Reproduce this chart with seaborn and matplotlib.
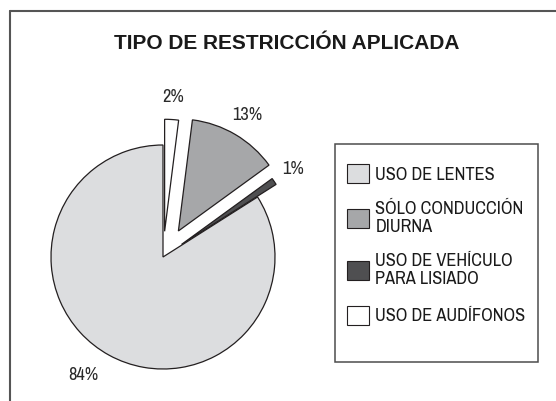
import matplotlib
matplotlib.use("Agg")
import matplotlib.pyplot as plt
import seaborn as sns
from matplotlib.patches import Patch, Rectangle
from matplotlib.lines import Line2D
from matplotlib.font_manager import FontProperties

# ---- data (legend order) ----
categories = ["USO DE LENTES", "SÓLO CONDUCCIÓN\nDIURNA", "USO DE VEHÍCULO\nPARA LISIADO", "USO DE AUDÍFONOS"]
values = [84, 13, 1, 2]
pct_labels = ["84%", "13%", "1%", "2%"]
title = "TIPO DE RESTRICCIÓN APLICADA"

# ---- style ----
colors = ["#DCDDDF", "#A6A7A9", "#4F4F51", "#FFFFFF"]
explode = [0.0, 0.27, 0.20, 0.23]
draw_order = [3, 1, 2, 0]   # clockwise from 12 o'clock: 2%, 13%, 1%, 84%
edge = "#231F20"

sns.set_theme(style="white")
plt.rcParams["font.family"] = ["Liberation Sans", "DejaVu Sans"]
fs = 13.2
narrow_fp = FontProperties(family=["Archivo Narrow", "PT Sans Narrow", "Liberation Sans"], size=fs)

W, H = 556, 401
fig = plt.figure(figsize=(W / 100, H / 100), dpi=100)
fig.patch.set_facecolor("white")

# pie centre / radius in pixels
cx, cy, R = 163, 257, 112
ax = fig.add_axes([0, 0, 1, 1])
wedges, texts = ax.pie(
    [values[i] for i in draw_order],
    labels=[pct_labels[i] for i in draw_order],
    colors=[colors[i] for i in draw_order],
    explode=[explode[i] for i in draw_order],
    startangle=90, counterclock=False, radius=1.0,
    labeldistance=1.2,
    wedgeprops=dict(edgecolor=edge, linewidth=0.9),
    textprops=dict(color="#2a2a2a"),
)
for t in texts:
    t.set_fontproperties(narrow_fp)
    x, y = t.get_position()
    if x > 0:
        t.set_horizontalalignment("center")
ax.set_xlim(-cx / R, (W - cx) / R)
ax.set_ylim(-(H - cy) / R, cy / R)
ax.set_aspect("auto")
ax.axis("off")

# title
fig.text(286.5 / W, 1 - 43.5 / H, title, ha="center", va="center",
         fontsize=15, fontweight="bold", color="#1a1a1a", family="Liberation Sans")

# outer frame (only top and left visible)
fig.add_artist(Line2D([9.5 / W, 9.5 / W], [0, 1 - 10.5 / H], transform=fig.transFigure,
                      color="#555555", lw=1.5))
fig.add_artist(Line2D([9.5 / W, 1], [1 - 10.5 / H, 1 - 10.5 / H], transform=fig.transFigure,
                      color="#555555", lw=1.5))

# legend box
fig.add_artist(Rectangle((335 / W, 1 - 362 / H), 203 / W, 218 / H, transform=fig.transFigure,
                         facecolor="white", edgecolor="#4d4d4d", lw=1.1, zorder=1))

handles = [Patch(facecolor=c, edgecolor=edge, lw=0.8) for c in colors]
fspx = fs * 100 / 72
leg = fig.legend(handles, categories, loc="upper left",
                 bbox_to_anchor=(347 / W, 1 - 164 / H), frameon=False,
                 borderpad=0, borderaxespad=0,
                 handlelength=22 / fspx, handleheight=22 / fspx,
                 handletextpad=0.35, labelspacing=1.0,
                 prop=narrow_fp)
for t in leg.get_texts():
    t.set_linespacing(1.15)
    t.set_color("#1a1a1a")
leg.set_zorder(3)

fig.savefig("out.png", dpi=100)
